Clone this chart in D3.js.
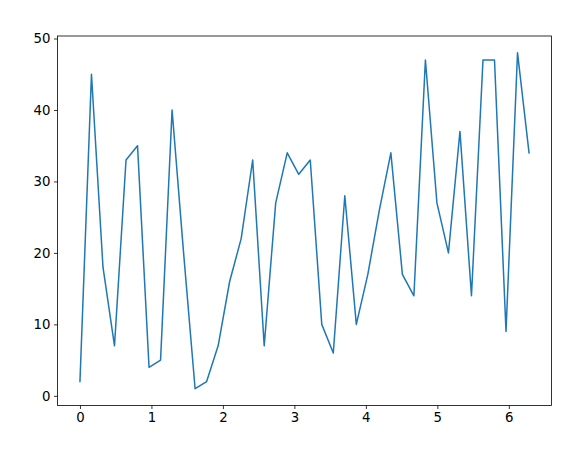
<!DOCTYPE html>
<html><head><meta charset="utf-8">
<script src="https://cdn.jsdelivr.net/npm/d3@7"></script>
<style>body{margin:0;background:#fff}</style>
</head><body>
<svg id="c" width="588" height="452"></svg>
<script>
const N = 40;
const values = [2,45,18,7,33,35,4,5,40,20,1,2,7,16,22,33,7,27,34,31,33,10,6,28,10,17,26,34,17,14,47,27,20,37,14,47,47,9,48,34];
const xTicks = [0,1,2,3,4,5,6];
const yTicks = [0,10,20,30,40,50];
const xs = values.map((v,i)=> i*2*Math.PI/(N-1));
const data = values.map((v,i)=>({x:xs[i], y:v}));

const svg = d3.select("#c");
const L=57.5, R=551.5, T=36, B=405.5;
const xmin=d3.min(xs), xmax=d3.max(xs), xr=xmax-xmin;
const ymin=d3.min(values), ymax=d3.max(values), yr=ymax-ymin;
const x = d3.scaleLinear().domain([xmin-0.05*xr, xmax+0.05*xr]).range([L,R]);
const y = d3.scaleLinear().domain([ymin-0.05*yr, ymax+0.05*yr]).range([B,T]);

svg.append("path").datum(data)
  .attr("fill","none").attr("stroke","#1f77b4").attr("stroke-width",1.5)
  .attr("stroke-linejoin","round").attr("stroke-linecap","square")
  .attr("d", d3.line().x(d=>x(d.x)).y(d=>y(d.y)));

const font = "'DejaVu Sans', sans-serif";
const xa = svg.append("g").attr("transform",`translate(0,${B})`)
  .call(d3.axisBottom(x).tickValues(xTicks).tickFormat(d3.format("d")).tickSize(3.5).tickPadding(3.5));
const ya = svg.append("g").attr("transform",`translate(${L},0)`)
  .call(d3.axisLeft(y).tickValues(yTicks).tickFormat(d3.format("d")).tickSize(3.5).tickPadding(3.5));
[xa,ya].forEach(a=>{
  a.select(".domain").remove();
  a.selectAll(".tick line").attr("stroke","#000").attr("stroke-width",0.8);
  a.selectAll(".tick text").attr("font-family",font).attr("font-size","13.3px").attr("fill","#000");
});
svg.append("rect").attr("x",L).attr("y",T).attr("width",R-L).attr("height",B-T)
  .attr("fill","none").attr("stroke","#000").attr("stroke-width",0.8);
</script>
</body></html>
